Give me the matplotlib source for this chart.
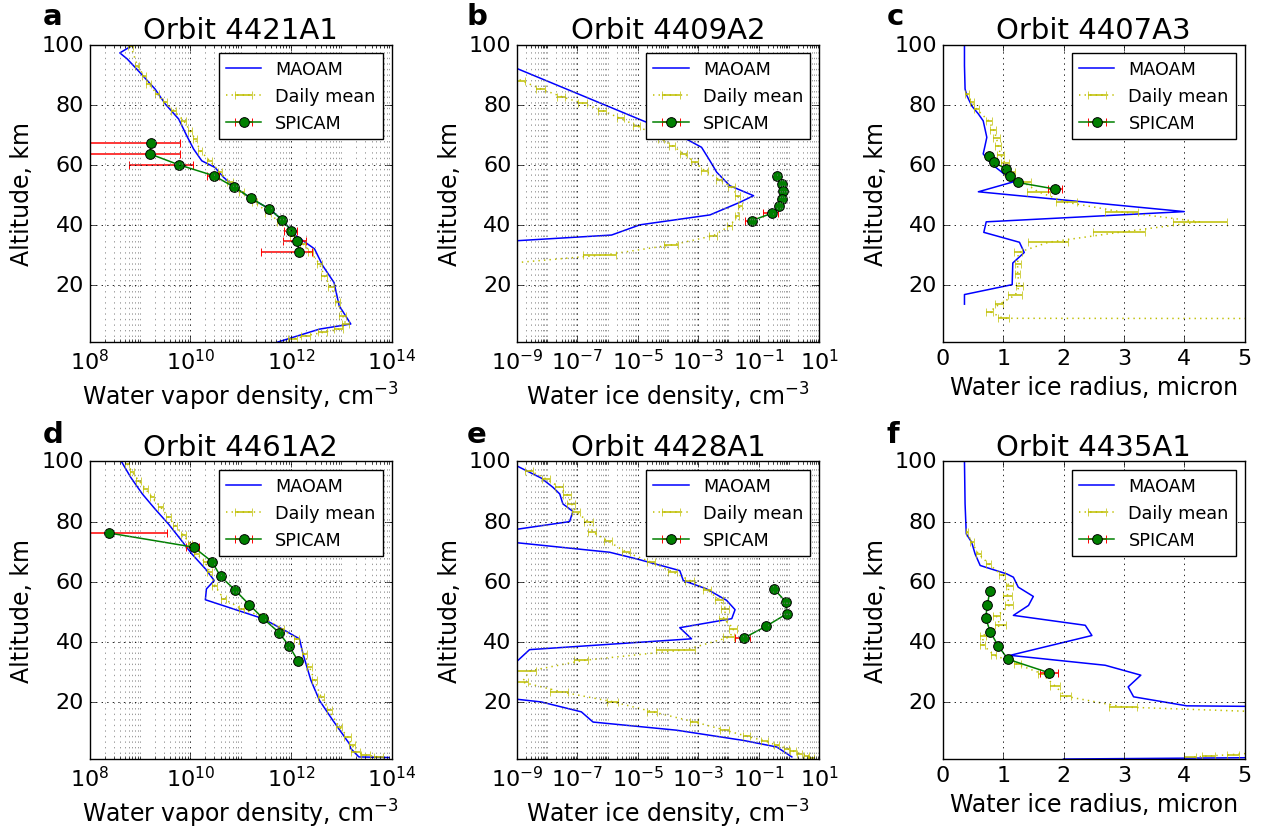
import numpy as np
import matplotlib
matplotlib.use('Agg')
import matplotlib.pyplot as plt
from matplotlib import ticker

plt.style.use('classic')
plt.rcParams['font.family'] = ['DejaVu Sans']
plt.rcParams['mathtext.fontset'] = 'dejavusans'
plt.rcParams['mathtext.default'] = 'regular'

# ---------------- a: Orbit 4421A1 (water vapour) ----------------
a_mao_alt = [100.0, 97.2, 95.2, 90.7, 85.2, 80.2, 75.2, 69.7, 65.2, 61.3, 59.1, 55.8,
             52.5, 48.6, 45.3, 41.4, 36.4, 32.0, 26.4, 20.8, 13.1, 7.0, 5.3, 1.0]
a_mao = [7.6e8, 4.0e8, 5.6e8, 1.0e9, 2.0e9, 3.2e9, 5.9e9, 8.5e9, 1.17e10, 1.7e10, 3.1e10, 4.6e10,
         7.8e10, 1.66e11, 3.8e11, 6.9e11, 1.26e12, 2.95e12, 4.3e12, 7.2e12, 9.1e12, 1.55e13, 3.7e12, 5.5e11]
a_dm_alt = [99.6, 93.0, 89.6, 86.9, 83.5, 80.8, 78.0, 74.7, 71.3, 68.5, 64.7, 61.3, 57.5, 54.1,
            50.8, 47.5, 44.1, 40.8, 36.4, 33.6, 30.8, 27.0, 23.1, 19.2, 14.2, 9.8, 7.0, 5.3, 4.2, 3.1, 2.0]
a_dm = [6.6e8, 8.9e8, 1.2e9, 1.5e9, 2.2e9, 3.2e9, 4.7e9, 7.4e9, 1.0e10, 1.26e10, 1.58e10, 2.45e10,
        3.9e10, 6.2e10, 1.05e11, 1.9e11, 3.55e11, 6.0e11, 1.1e12, 1.74e12, 2.5e12, 3.7e12, 4.6e12,
        6.3e12, 8.5e12, 1.07e13, 1.23e13, 9.1e12, 4.3e12, 2.0e12, 1.1e12]
a_dm_rel = [0.1, 0.1, 0.1, 0.1, 0.1, 0.1, 0.1, 0.1, 0.1, 0.1, 0.1, 0.1, 0.1, 0.12, 0.12, 0.12,
            0.12, 0.12, 0.12, 0.12, 0.12, 0.12, 0.12, 0.12, 0.12, 0.15, 0.15, 0.2, 0.2, 0.2, 0.2]
a_sp_alt = [67.2, 63.6, 60.0, 56.3, 52.6, 48.9, 45.3, 41.6, 38.0, 34.5, 30.8]
a_sp = [1.66e9, 1.58e9, 5.9e9, 3.0e10, 7.4e10, 1.62e11, 3.7e11, 6.8e11, 1.02e12, 1.35e12, 1.45e12]
a_sp_err = [4.6e9, 4.7e9, 5.3e9, 8e9, 1.0e10, 2e10, 5e10, 8e10, 3e11, 6.5e11, 1.2e12]

# ---------------- b: Orbit 4409A2 (water ice density) ----------------
b_mao_alt = [92.1, 74.6, 69.7, 65.8, 61.3, 57.5, 53.0, 49.7, 47.5, 43.3, 40.0, 36.6, 34.7]
b_mao = [9.5e-10, 1.5e-5, 2.45e-4, 1.29e-3, 2.45e-3, 4.1e-3, 1.12e-2, 6.8e-2, 2.4e-2, 2.45e-3,
         1.17e-5, 1.35e-6, 9.5e-10]
b_dm_alt = [91.0, 88.0, 85.2, 82.6, 80.4, 78.0, 75.4, 73.0, 70.8, 68.6, 66.3, 63.6, 60.8, 58.0,
            55.0, 52.5, 49.7, 46.4, 43.0, 39.7, 36.4, 33.4, 30.1, 27.0]
b_dm = [4e-10, 1.38e-9, 6.3e-9, 3.1e-8, 1.55e-7, 6.8e-7, 2.7e-6, 9.1e-6, 2.5e-5, 6.0e-5, 1.41e-4,
        3.4e-4, 7.8e-4, 1.66e-3, 5.0e-3, 1.29e-2, 2.0e-2, 2.4e-2, 2.0e-2, 1.12e-2, 3.2e-3, 1.48e-4,
        1.0e-6, 3.2e-10]
b_dm_rel = [0.3, 0.3, 0.3, 0.3, 0.3, 0.3, 0.25, 0.25, 0.25, 0.25, 0.25, 0.25, 0.25, 0.25, 0.25,
            0.25, 0.2, 0.15, 0.15, 0.2, 0.3, 0.5, 0.85, 0.3]
b_sp_alt = [56.1, 53.6, 51.1, 48.6, 46.4, 43.9, 41.4]
b_sp = [0.40, 0.58, 0.66, 0.58, 0.47, 0.285, 0.059]
b_sp_err = [0.04, 0.05, 0.05, 0.05, 0.04, 0.14, 0.024]

# ---------------- c: Orbit 4407A3 (water ice radius) ----------------
c_mao_alt = [100.0, 93.0, 85.2, 83.0, 79.6, 76.9, 74.6, 71.9, 69.1, 66.3, 63.6, 60.2, 57.5, 54.3,
             51.0, 44.4, 41.0, 37.5, 34.2, 30.8, 27.3, 20.1, 16.8, 13.6]
c_mao = [0.36, 0.36, 0.37, 0.40, 0.48, 0.59, 0.67, 0.70, 0.73, 0.70, 0.67, 0.81, 0.98, 1.17,
         0.59, 4.0, 0.72, 0.68, 1.27, 1.35, 1.16, 1.15, 0.36, 0.36]
c_dm_alt = [83.5, 80.8, 78.5, 74.6, 71.7, 68.9, 66.1, 63.2, 60.6, 57.5, 54.1, 51.0, 47.5, 44.3,
            41.0, 37.5, 34.2, 30.8, 27.0, 23.6, 19.7, 16.6, 13.5, 11.1, 8.9, 8.0]
c_dm = [0.40, 0.48, 0.56, 0.76, 0.84, 0.89, 0.92, 0.96, 1.03, 1.11, 1.34, 1.58, 2.05, 2.96,
        4.26, 2.92, 1.75, 1.25, 1.24, 1.24, 1.27, 1.20, 0.93, 0.78, 1.00, 60.0]
c_dm_err = [0.03, 0.03, 0.04, 0.05, 0.05, 0.05, 0.05, 0.06, 0.07, 0.09, 0.12, 0.19, 0.18, 0.28,
            0.44, 0.43, 0.33, 0.07, 0.05, 0.04, 0.06, 0.12, 0.06, 0.06, 0.09, 0.0]
c_sp_alt = [63.0, 60.8, 58.6, 56.3, 54.1, 51.9]
c_sp = [0.77, 0.85, 1.05, 1.11, 1.24, 1.86]
c_sp_err = [0.03, 0.03, 0.03, 0.03, 0.03, 0.11]

# ---------------- d: Orbit 4461A2 (water vapour) ----------------
d_mao_alt = [100.0, 94.7, 89.2, 84.2, 79.2, 74.3, 69.3, 64.3, 60.4, 57.6, 54.0, 47.7, 44.4, 41.0,
             36.0, 27.2, 20.5, 13.9, 6.1, 4.5, 1.7, 1.5]
d_mao = [4.3e8, 6.6e8, 1.12e9, 2.0e9, 3.7e9, 6.3e9, 1.07e10, 2.0e10, 3.0e10, 2.1e10, 2.0e10,
         2.8e11, 6.5e11, 1.48e12, 1.74e12, 2.5e12, 3.7e12, 6.8e12, 1.45e13, 1.55e13, 2.24e13, 8.9e13]
d_dm_alt = [99.2, 96.4, 93.6, 90.9, 88.1, 84.8, 81.4, 78.7, 75.4, 72.6, 69.3, 66.5, 63.2, 58.7,
            54.3, 51.0, 48.2, 44.4, 41.0, 36.0, 31.6, 27.2, 21.6, 17.2, 11.7, 8.4, 5.6, 3.4, 2.3, 1.7]
d_dm = [5.6e8, 7.1e8, 9.5e8, 1.29e9, 1.74e9, 2.6e9, 3.7e9, 5.0e9, 7.4e9, 1.0e10, 1.35e10, 2.0e10,
        2.45e10, 3.1e10, 4.6e10, 1.05e11, 2.8e11, 6.5e11, 1.29e12, 1.86e12, 2.34e12, 2.95e12,
        4.0e12, 5.8e12, 9.1e12, 1.35e13, 1.66e13, 1.95e13, 3.1e13, 5.6e13]
d_dm_rel = [0.1, 0.1, 0.1, 0.1, 0.1, 0.1, 0.1, 0.1, 0.1, 0.1, 0.1, 0.12, 0.12, 0.12, 0.12,
            0.12, 0.12, 0.12, 0.12, 0.12, 0.12, 0.12, 0.12, 0.12, 0.12, 0.15, 0.15, 0.2, 0.2, 0.2]
d_sp_alt = [76.2, 71.5, 66.7, 61.8, 57.2, 52.4, 47.8, 43.1, 38.5, 33.5]
d_sp = [2.45e8, 1.17e10, 2.7e10, 4.0e10, 7.8e10, 1.48e11, 2.8e11, 5.8e11, 9.3e11, 1.41e12]
d_sp_err = [3.2e9, 3.3e9, 3e9, 4e9, 8e9, 1.5e10, 3e10, 6e10, 9e10, 2e11]

# ---------------- e: Orbit 4428A1 (water ice density) ----------------
e_mao_alt = [98.5, 94.5, 91.4, 89.2, 85.9, 83.4, 80.0, 76.0, 74.0, 69.8, 67.6, 63.7, 60.4, 57.6,
             53.8, 50.7, 47.7, 44.7, 41.0, 37.4, 33.8, 32.0, 22.0, 20.0, 16.7, 13.3, 10.6, 7.2,
             5.0, 1.7]
e_mao = [1.0e-9, 6.3e-9, 1.55e-8, 2.6e-8, 3.3e-8, 7.1e-8, 5.5e-8, 1e-10, 1e-10, 1.17e-6, 9.1e-6,
         2.45e-4, 3.2e-4, 1.9e-3, 8.7e-3, 1.66e-2, 1.29e-2, 2.45e-4, 6.0e-4, 2.6e-9, 1.07e-9, 1e-10,
         1e-10, 6.3e-9, 1.35e-7, 3.3e-7, 1.9e-4, 3.1e-2, 0.40, 1.26]
e_dm_alt = [97.0, 94.2, 91.4, 88.7, 86.0, 83.1, 79.8, 76.5, 73.5, 69.8, 66.5, 63.2, 60.4, 57.3,
            54.0, 51.0, 47.7, 44.4, 41.6, 37.4, 33.8, 30.3, 26.6, 23.3, 20.0, 16.7, 13.3, 10.6,
            8.6, 7.0, 5.6, 4.5, 3.6, 2.8, 2.1, 1.5]
e_dm = [2.6e-9, 9.3e-9, 2.6e-8, 4.9e-8, 6.3e-8, 9.3e-8, 2.45e-7, 3.2e-7, 1.05e-6, 4.2e-6, 2.8e-5,
        1.48e-4, 5.4e-4, 2.0e-3, 5.0e-3, 8.3e-3, 6.8e-3, 1.51e-2, 1.12e-2, 4.0e-4, 1.5e-7, 2.6e-9,
        1.48e-9, 3.1e-8, 1.58e-6, 3.2e-5, 7.8e-4, 7.8e-3, 4.0e-2, 0.162, 0.40, 0.85, 1.41, 2.34,
        3.9, 5.6]
e_dm_rel = [0.3, 0.3, 0.3, 0.3, 0.3, 0.3, 0.3, 0.3, 0.3, 0.3, 0.3, 0.3, 0.3, 0.3, 0.3, 0.3, 0.3,
            0.3, 0.4, 0.9, 0.5, 0.65, 0.55, 0.6, 0.4, 0.35, 0.3, 0.3, 0.25, 0.25, 0.2, 0.2, 0.2,
            0.2, 0.2, 0.2]
e_sp_alt = [57.6, 53.4, 49.3, 45.2, 41.3]
e_sp = [0.32, 0.79, 0.85, 0.178, 0.033]
e_sp_err = [0.03, 0.07, 0.08, 0.02, 0.017]

# ---------------- f: Orbit 4435A1 (water ice radius) ----------------
f_mao_alt = [100.0, 85.9, 75.9, 73.1, 69.3, 65.4, 62.6, 61.5, 58.2, 55.1, 52.1, 48.8, 45.5, 42.1,
             35.5, 32.2, 28.9, 25.0, 21.7, 18.7, 18.0, 2.0, 1.0]
f_mao = [0.36, 0.37, 0.39, 0.48, 0.535, 0.62, 1.06, 1.17, 1.25, 1.50, 1.42, 1.17, 2.36, 2.47,
         1.115, 2.69, 3.28, 3.07, 3.16, 4.04, 8.0, 9.0, 2.0]
f_dm_alt = [76.5, 73.1, 69.3, 66.0, 62.1, 58.7, 55.4, 52.1, 48.5, 45.5, 42.1, 39.1, 35.7, 32.5,
            29.4, 25.3, 21.9, 18.3, 16.5, 10.0, 5.0, 2.5, 2.0, 1.6]
f_dm = [0.40, 0.48, 0.59, 0.76, 0.98, 1.10, 1.07, 1.10, 0.89, 0.95, 0.67, 0.66, 0.84, 1.24,
        1.64, 1.86, 2.03, 2.99, 5.6, 7.0, 6.5, 4.8, 4.4, 4.1]
f_dm_err = [0.02, 0.03, 0.04, 0.04, 0.05, 0.06, 0.07, 0.07, 0.06, 0.09, 0.05, 0.04, 0.04, 0.06,
            0.07, 0.08, 0.09, 0.23, 0.0, 0.0, 0.0, 0.1, 0.1, 0.1]
f_sp_alt = [56.9, 52.3, 47.9, 43.2, 38.6, 34.2, 29.7]
f_sp = [0.78, 0.74, 0.71, 0.79, 0.92, 1.08, 1.76]
f_sp_err = [0.03, 0.03, 0.03, 0.03, 0.03, 0.03, 0.15]

titles = ['Orbit 4421A1', 'Orbit 4409A2', 'Orbit 4407A3',
          'Orbit 4461A2', 'Orbit 4428A1', 'Orbit 4435A1']
letters = ['a', 'b', 'c', 'd', 'e', 'f']
xlabels = ['Water vapor density, cm$^{-3}$', 'Water ice density, cm$^{-3}$',
           'Water ice radius, micron']
vapor_ticks = [1e8, 1e10, 1e12, 1e14]
ice_ticks = [1e-9, 1e-7, 1e-5, 1e-3, 1e-1, 1e1]

panels = [
    (a_mao_alt, a_mao, a_dm_alt, a_dm, a_dm_rel, a_sp_alt, a_sp, a_sp_err),
    (b_mao_alt, b_mao, b_dm_alt, b_dm, b_dm_rel, b_sp_alt, b_sp, b_sp_err),
    (c_mao_alt, c_mao, c_dm_alt, c_dm, c_dm_err, c_sp_alt, c_sp, c_sp_err),
    (d_mao_alt, d_mao, d_dm_alt, d_dm, d_dm_rel, d_sp_alt, d_sp, d_sp_err),
    (e_mao_alt, e_mao, e_dm_alt, e_dm, e_dm_rel, e_sp_alt, e_sp, e_sp_err),
    (f_mao_alt, f_mao, f_dm_alt, f_dm, f_dm_err, f_sp_alt, f_sp, f_sp_err),
]

fig = plt.figure(figsize=(12.61, 8.29), dpi=100)
lefts = [0.0710, 0.4100, 0.7476]
bottoms = [0.5862, 0.0832]
w, h = 0.2395, 0.3589
letter_x = [0.034, 0.370, 0.703]
letter_y = [0.970, 0.4656]

for i, p in enumerate(panels):
    row, col = divmod(i, 3)
    mao_alt, mao, dm_alt, dm, dm_e, sp_alt, sp, sp_err = p
    ax = fig.add_axes([lefts[col], bottoms[row], w, h])
    if col < 2:
        ax.set_xscale('log', nonpositive='clip')
        dm_xerr = np.array(dm_e) * np.array(dm)
    else:
        dm_xerr = np.array(dm_e)
    ax.plot(mao, mao_alt, 'b-', lw=1.1, label='MAOAM')
    ax.errorbar(dm, dm_alt, xerr=dm_xerr, fmt='y:', ecolor='y', capsize=3,
                lw=1.1, elinewidth=1.1, label='Daily mean')
    ax.errorbar(sp, sp_alt, xerr=sp_err, fmt='go-', ecolor='r', capsize=3,
                lw=1.1, ms=7, mec='k', mew=0.7, label='SPICAM')
    if col == 0:
        ax.set_xlim(1e8, 1e14)
        ax.set_xticks(vapor_ticks)
    elif col == 1:
        ax.set_xlim(1e-9, 1e1)
        ax.set_xticks(ice_ticks)
    else:
        ax.set_xlim(0, 5)
    if col < 2:
        ax.xaxis.set_minor_locator(ticker.LogLocator(base=10, subs=np.arange(1, 10), numticks=40))
        ax.xaxis.set_minor_formatter(ticker.NullFormatter())
        ax.grid(True, which='minor', color='0.45', linestyle=':', lw=0.5)
    ax.grid(True, which='major', color='k', linestyle=':', lw=0.6)
    ax.set_ylim(1, 100)
    ax.set_yticks([20, 40, 60, 80, 100])
    ax.tick_params(labelsize=16)
    ax.set_title(titles[i], fontsize=21, pad=5)
    ax.set_ylabel('Altitude, km', fontsize=17)
    ax.set_xlabel(xlabels[col], fontsize=17)
    ax.legend(loc='upper right', fontsize=12.7, numpoints=1)
    fig.text(letter_x[col], letter_y[row], letters[i], fontsize=21, fontweight='bold')

fig.savefig('out.png', dpi=100, facecolor='white')
